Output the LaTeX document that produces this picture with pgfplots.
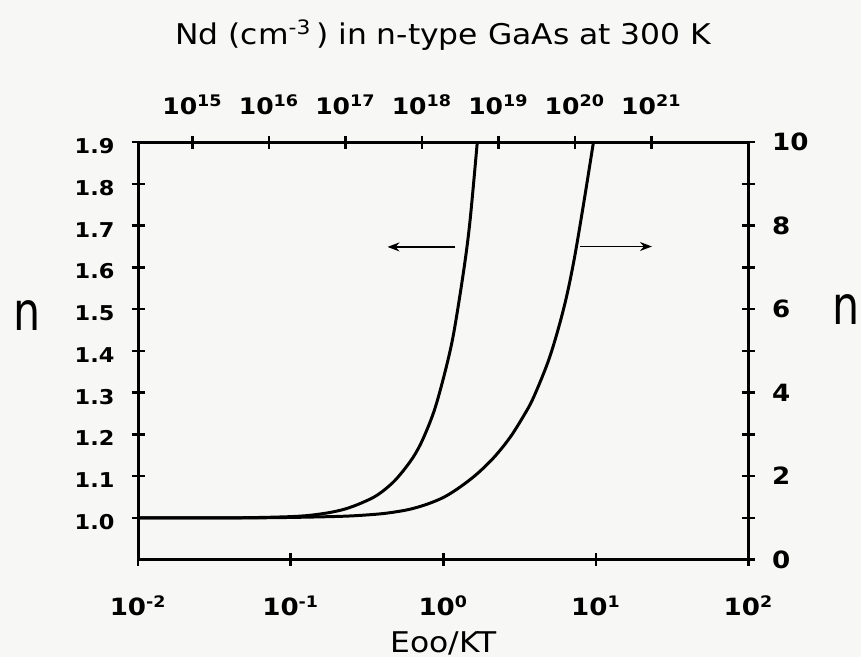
\documentclass[border=0pt]{standalone}
\usepackage{fontspec}
\setmainfont{DejaVu Sans}[FakeStretch=1.1]
\newfontfamily\nfont{DejaVu Sans}[FakeStretch=0.8]
\usepackage{pgfplots}
\pgfplotsset{compat=1.18}
\usetikzlibrary{arrows.meta}
\definecolor{paper}{RGB}{247,247,245}

\tikzset{
  curve/.style={line width=1.5bp, black, smooth, tension=0.55},
  pointer/.style={line width=0.9bp, black, -{Stealth[length=6bp, width=4.5bp]}},
}

\begin{document}
\begin{tikzpicture}
% paper background, also fixes the page size
\begin{axis}[width=307bp, height=210bp, scale only axis,
    xmin=0, xmax=1, ymin=0, ymax=1, hide axis, clip=false]
\fill[paper] (axis description cs:-0.2264,-0.2333) rectangle (axis description cs:1.184,1.3405);
\end{axis}

% bottom x axis + left y axis
\begin{axis}[width=307bp, height=210bp, scale only axis, clip=false,
    xmode=log, xmin=1e-2, xmax=1e2, ymin=0.9, ymax=1.9,
    axis x line*=bottom, axis y line*=left,
    axis line style={line width=1.5bp, -},
    tick style={line width=1.3bp, black},
    tick align=center, major tick length=6.5bp,
    xminorticks=false, yminorticks=false,
    xtick={1e-2,1e-1,1,1e1,1e2},
    xticklabels={10\textsuperscript{-2},10\textsuperscript{-1},10\textsuperscript{0},10\textsuperscript{1},10\textsuperscript{2}},
    xticklabel style={font=\fontsize{12}{12}\selectfont\bfseries, anchor=base, inner sep=0pt, yshift=-25bp},
    ytick={1.0,1.1,1.2,1.3,1.4,1.5,1.6,1.7,1.8,1.9},
    yticklabels={1.0,1.1,1.2,1.3,1.4,1.5,1.6,1.7,1.8,1.9},
    yticklabel style={font=\fontsize{10.3}{12}\selectfont\bfseries, anchor=east, inner sep=0pt, xshift=-8.5bp, yshift=-2bp},
    xlabel={Eoo/KT},
    xlabel style={at={(axis description cs:0.5,-0.2214)}, anchor=base, font=\fontsize{14.4}{15}\selectfont},
    ylabel={n},
    ylabel style={at={(axis description cs:-0.1824,0.5857)}, anchor=center, rotate=-90, font=\nfont\fontsize{27}{27}\selectfont},
]
\addplot[curve, mark=none] coordinates {
  (0.01,1.000) (0.04,1.000) (0.083,1.002) (0.124,1.005) (0.175,1.012)
  (0.226,1.021) (0.288,1.035) (0.371,1.055) (0.48,1.089) (0.61,1.136)
  (0.708,1.176) (0.822,1.231) (0.914,1.281) (1.06,1.37) (1.18,1.45)
  (1.37,1.60) (1.50,1.715) (1.67,1.90)
};
\addplot[pointer, mark=none] coordinates {(1.2,1.649) (0.431,1.649)};
\end{axis}

% right y axis
\begin{axis}[width=307bp, height=210bp, scale only axis, clip=false,
    xmode=log, xmin=1e-2, xmax=1e2, ymin=0, ymax=10,
    axis x line=none, axis y line*=right,
    axis line style={line width=1.5bp, -},
    tick style={line width=1.3bp, black},
    tick align=center, major tick length=6.5bp,
    xminorticks=false, yminorticks=false,
    ytick={0,1,2,3,4,5,6,7,8,9,10},
    yticklabels={0,,2,,4,,6,,8,,10},
    yticklabel style={font=\fontsize{12}{12}\selectfont\bfseries, anchor=west, inner sep=0pt, xshift=8.5bp},
    ylabel={n},
    ylabel style={at={(axis description cs:1.1596,0.6)}, anchor=center, rotate=-90, font=\nfont\fontsize{27}{27}\selectfont},
]
\addplot[curve, mark=none] coordinates {
  (0.01,1.00) (0.05,1.00) (0.1,1.01) (0.226,1.04) (0.371,1.09)
  (0.48,1.14) (0.61,1.21) (0.787,1.33) (1.015,1.50) (1.29,1.74)
  (1.66,2.05) (2.15,2.45) (2.73,2.92) (3.37,3.45) (3.92,3.90)
  (4.98,4.85) (6.14,6.00) (7.13,7.10) (8.29,8.50) (9.64,10.0)
};
\addplot[pointer, mark=none] coordinates {(7.82,7.5) (23.3,7.5)};
\end{axis}

% top x axis: donor density
\begin{axis}[width=307bp, height=210bp, scale only axis, clip=false,
    xmode=log, xmin=1.95e14, xmax=1.862e22, ymin=0, ymax=1,
    axis x line*=top, axis y line=none,
    axis line style={line width=1.5bp, -},
    tick style={line width=1.3bp, black},
    tick align=center, major tick length=6.5bp,
    xminorticks=false,
    xtick={1e15,1e16,1e17,1e18,1e19,1e20,1e21},
    xticklabels={10\textsuperscript{15},10\textsuperscript{16},10\textsuperscript{17},10\textsuperscript{18},10\textsuperscript{19},10\textsuperscript{20},10\textsuperscript{21}},
    xticklabel style={font=\fontsize{11.5}{12}\selectfont\bfseries, anchor=base, inner sep=0pt, yshift=10.5bp},
    title={Nd (cm\textsuperscript{-3}\,) in n-type GaAs at 300 K},
    title style={at={(axis description cs:0.5,1.2048)}, anchor=base, font=\fontsize{14.4}{15}\selectfont},
]
\end{axis}
\end{tikzpicture}
\end{document}
